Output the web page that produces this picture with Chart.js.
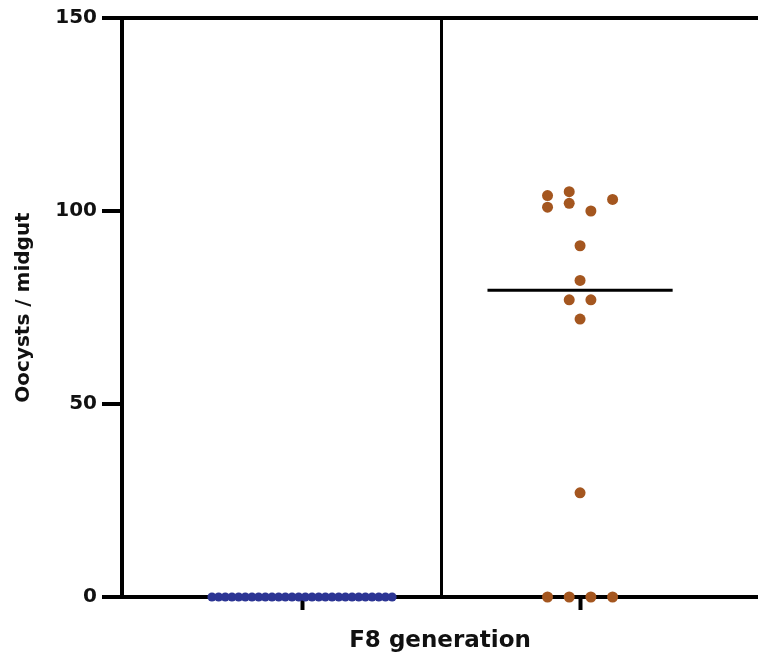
<!DOCTYPE html>
<html>
<head>
<meta charset="utf-8">
<title>Oocysts / midgut — F8 generation</title>
<script src="https://cdn.jsdelivr.net/npm/chart.js@4"></script>
<style>
  html, body { margin: 0; padding: 0; background: #fff; }
  #wrap { width: 758px; height: 661px; }
</style>
</head>
<body>
<div id="wrap"><canvas id="dotChart"></canvas></div>
<script>
// ── Data ────────────────────────────────────────────────────
const groupPositions = [1, 2];          // x of the two groups
const groupDivider = 1.5;               // vertical line between groups
const yTicks = [0, 50, 100, 150];

// group 1 (blue): all 28 midguts had 0 oocysts
const controlValues = [0, 0, 0, 0, 0, 0, 0, 0, 0, 0, 0, 0, 0, 0,
                       0, 0, 0, 0, 0, 0, 0, 0, 0, 0, 0, 0, 0, 0];
// group 2 (brown)
const infectedValues = [104, 101, 105, 102, 100, 103, 91, 82, 77, 77, 72, 27, 0, 0, 0, 0];
// swarm lane of each brown dot (how far it sits from the group centre)
const infectedLanes = [-1.5, -1.5, -0.5, -0.5, 0.5, 1.5, 0, 0, -0.5, 0.5, 0, 0, -1.5, -0.5, 0.5, 1.5];

// ── Helpers ─────────────────────────────────────────────────
const controlSpacing = 0.024;   // x units between blue dots
const infectedSpacing = 0.078;  // x units between brown lanes
const medianHalfWidth = 0.333;

function median(arr) {
  const s = [...arr].sort((a, b) => a - b);
  const m = Math.floor(s.length / 2);
  return s.length % 2 ? s[m] : (s[m - 1] + s[m]) / 2;
}

const controlPoints = controlValues.map((v, i) => ({
  x: groupPositions[0] + (i - (controlValues.length - 1) / 2) * controlSpacing,
  y: v
}));
const infectedPoints = infectedValues.map((v, i) => ({
  x: groupPositions[1] + infectedLanes[i] * infectedSpacing,
  y: v
}));
const infectedMedian = median(infectedValues);
const medianLine = [
  { x: groupPositions[1] - medianHalfWidth, y: infectedMedian },
  { x: groupPositions[1] + medianHalfWidth, y: infectedMedian }
];

const FONT = "'DejaVu Sans', Verdana, sans-serif";
const TRANSPARENT = 'rgba(0,0,0,0)';

new Chart(document.getElementById('dotChart'), {
  type: 'scatter',
  data: {
    datasets: [
      {
        label: 'Control',
        data: controlPoints,
        backgroundColor: '#2c3594',
        pointRadius: 4.5,
        pointBorderWidth: 0,
        clip: false
      },
      {
        label: 'Infected',
        data: infectedPoints,
        backgroundColor: '#a4561f',
        pointRadius: 5.5,
        pointBorderWidth: 0,
        clip: false
      },
      {
        type: 'line',
        label: 'Median',
        data: medianLine,
        borderColor: '#000',
        borderWidth: 3,
        pointRadius: 0,
        fill: false
      }
    ]
  },
  options: {
    responsive: true,
    maintainAspectRatio: false,
    animation: false,
    layout: { autoPadding: false, padding: { top: 18, right: 0, bottom: 0, left: 0 } },
    plugins: {
      legend: { display: false },
      tooltip: { enabled: false }
    },
    scales: {
      x: {
        type: 'linear',
        min: 0.3525,
        max: 2.64,
        afterBuildTicks: (scale) => {
          scale.ticks = [groupPositions[0], groupDivider, groupPositions[1]].map(v => ({ value: v }));
        },
        afterFit: (scale) => { scale.height = 64; },
        ticks: { callback: () => '', padding: 0 },
        grid: {
          color: (ctx) => ctx.tick && ctx.tick.value === groupDivider ? '#000' : TRANSPARENT,
          lineWidth: 3,
          tickColor: (ctx) => ctx.tick && ctx.tick.value === groupDivider ? TRANSPARENT : '#000',
          tickWidth: 4,
          tickLength: 13
        },
        border: { display: true, color: '#000', width: 4 },
        title: {
          display: true,
          text: 'F8 generation',
          color: '#111',
          font: { family: FONT, size: 23, weight: 'bold' },
          padding: { top: 0, bottom: 6 }
        }
      },
      y: {
        min: 0,
        max: 150,
        afterBuildTicks: (scale) => {
          scale.ticks = yTicks.map(v => ({ value: v }));
        },
        afterFit: (scale) => { scale.width = 122; },
        ticks: {
          color: '#111',
          padding: 5,
          font: { family: FONT, size: 20, weight: 'bold' }
        },
        grid: {
          color: (ctx) => ctx.tick && ctx.tick.value === 150 ? '#000' : TRANSPARENT,
          lineWidth: 4,
          tickColor: '#000',
          tickWidth: 4,
          tickLength: 20
        },
        border: { display: true, color: '#000', width: 4 },
        title: {
          display: true,
          text: 'Oocysts / midgut',
          color: '#111',
          font: { family: FONT, size: 20, weight: 'bold' },
          padding: { top: 12, bottom: 0 }
        }
      }
    }
  }
});
</script>
</body>
</html>
